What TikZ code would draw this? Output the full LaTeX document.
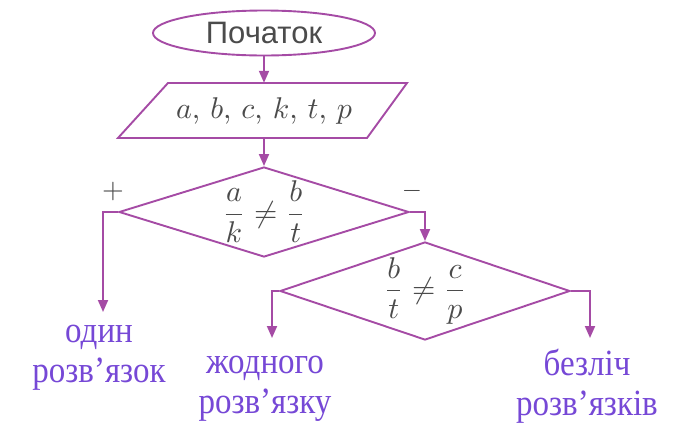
\documentclass[tikz,border=0pt]{standalone}
\usepackage{amsmath}
\usepackage{graphicx}
\usepackage{fontspec}
\usetikzlibrary{shapes.geometric,arrows.meta}
\newfontfamily\lblserif{Liberation Serif}
\newfontfamily\lblsans{Liberation Sans}
\definecolor{lc}{RGB}{165,75,165}
\definecolor{tc}{RGB}{118,72,214}
\definecolor{mc}{RGB}{75,75,75}
\newcommand\mbig[2]{\scalebox{#1}{\fontsize{10}{12}\selectfont #2}}
\newcommand\lbltxt[2]{\scalebox{1}[1.12]{\begin{tabular}{@{}c@{}}#1\\#2\end{tabular}}}
\begin{document}
\begin{tikzpicture}[x=1pt,y=-1pt,
  ln/.style={draw=lc, line width=1.9pt},
  arr/.style={ln, -{Triangle[length=12pt,width=10pt]}},
  lbl/.style={text=tc, font=\lblserif\fontsize{33}{36}\selectfont, inner sep=0pt, anchor=north},
  mth/.style={text=mc},
  sgn/.style={text=mc, inner sep=0pt}]
\useasboundingbox (0,0) rectangle (697,445);
% start
\node[ln, ellipse, minimum width=222pt, minimum height=45pt, inner sep=0pt, text=mc,
      font=\lblsans\fontsize{31}{34}\selectfont] (start) at (264,33) {Початок};
% input
\node[mth, minimum height=55pt, inner sep=0pt] (inp) at (264,110.5)
  {\mbig{3}{$a$, $b$, $c$, $k$, $t$, $p$}};
\draw[ln] (168,83) -- (407,83) -- (367,138) -- (118,138) -- cycle;
% decisions
\node[ln, diamond, minimum width=290pt, minimum height=90pt, aspect=3.2, inner sep=0pt, mth] (d1) at (264,212)
  {\mbig{3}{$\dfrac{a}{k}\neq\dfrac{b}{t}$}};
\node[ln, diamond, minimum width=290pt, minimum height=98pt, aspect=2.9, inner sep=0pt, mth] (d2) at (425,291)
  {\mbig{3}{$\dfrac{b}{t}\neq\dfrac{c}{p}$}};
\node[sgn] (plus) at (113,191) {\mbig{2.8}{$+$}};
\node[sgn] (minus) at (412,191) {\mbig{2.6}{$-$}};
% end points
\coordinate (t1) at (103,312);
\coordinate (t2) at (272,338);
\coordinate (t3) at (590,338);
% connectors
\draw[arr] (start.south) -- (inp.north);
\draw[arr] (inp.south) -- (d1.north);
\draw[arr] (d1.west) -| (t1);
\draw[arr] (d1.east) -| (d2.north);
\draw[arr] (d2.west) -| (t2);
\draw[arr] (d2.east) -| (t3);
% labels
\node[lbl] (l1) at (99,314) {\lbltxt{один}{розв’язок}};
\node[lbl] (l2) at (265,345) {\lbltxt{жодного}{розв’язку}};
\node[lbl] (l3) at (587,347) {\lbltxt{безліч}{розв’язків}};
\end{tikzpicture}
\end{document}
